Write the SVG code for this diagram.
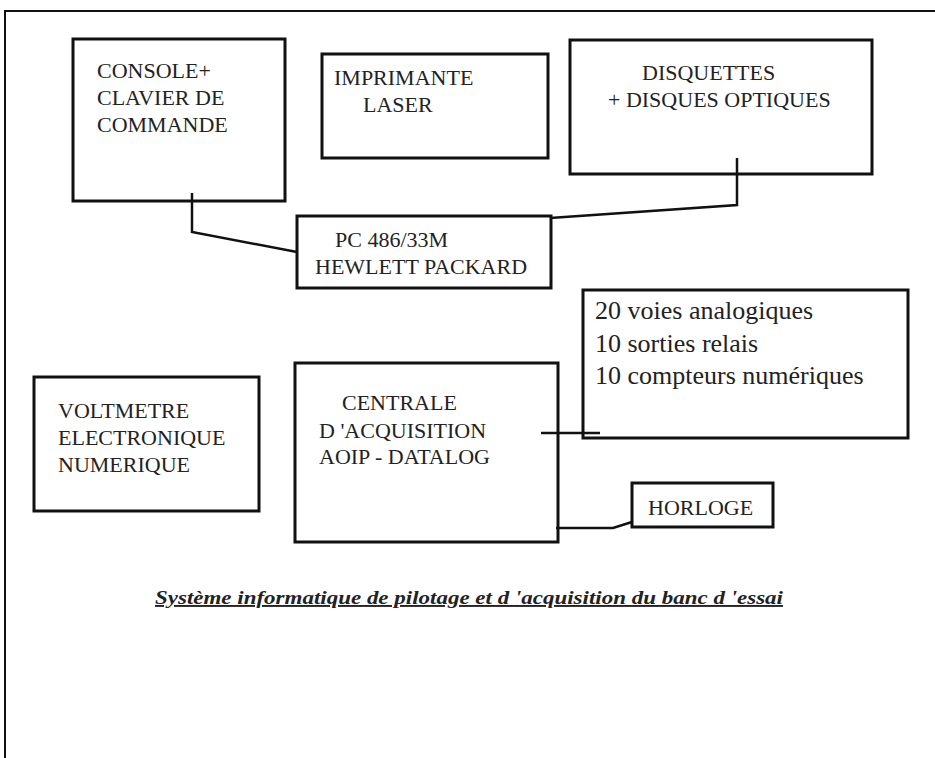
<svg xmlns="http://www.w3.org/2000/svg" width="935" height="758" viewBox="0 0 935 758">
<style>
.box{fill:#fff;stroke:#111;stroke-width:3}
.t{font-family:'Liberation Serif',Tinos,'Times New Roman','DejaVu Serif',serif;font-size:22px;fill:#222}
.t2{font-family:'Liberation Serif',Tinos,'Times New Roman','DejaVu Serif',serif;font-size:26px;fill:#222}
.c{fill:none;stroke:#111;stroke-width:2.5;stroke-linejoin:miter}
.cap{font-family:'Liberation Serif',Tinos,'Times New Roman','DejaVu Serif',serif;font-size:19px;font-weight:bold;font-style:italic;fill:#222;text-decoration:underline}
</style>
<rect width="935" height="758" fill="#fff"/>
<path d="M5,758 V11 H935" fill="none" stroke="#111" stroke-width="2"/>
<g id="console">
<rect class="box" x="73" y="39" width="212" height="162"/>
<text class="t" x="97" y="78">CONSOLE+</text>
<text class="t" x="97" y="105">CLAVIER DE</text>
<text class="t" x="97" y="132">COMMANDE</text>
</g>
<g id="imprimante">
<rect class="box" x="322" y="54" width="226" height="104"/>
<text class="t" x="334" y="85">IMPRIMANTE</text>
<text class="t" x="363" y="112">LASER</text>
</g>
<g id="disquettes">
<rect class="box" x="570" y="40" width="302" height="134"/>
<text class="t" x="642" y="80">DISQUETTES</text>
<text class="t" x="608" y="107">+ DISQUES OPTIQUES</text>
</g>
<g id="pc">
<rect class="box" x="297" y="216" width="254" height="72"/>
<text class="t" x="335" y="247">PC 486/33M</text>
<text class="t" x="315" y="274">HEWLETT PACKARD</text>
</g>
<g id="voies">
<rect class="box" x="583" y="290" width="325" height="148"/>
<text class="t2" x="595" y="319">20 voies analogiques</text>
<text class="t2" x="595" y="352">10 sorties relais</text>
<text class="t2" x="595" y="384">10 compteurs numériques</text>
</g>
<g id="voltmetre">
<rect class="box" x="34" y="377" width="225" height="134"/>
<text class="t" x="58" y="418">VOLTMETRE</text>
<text class="t" x="58" y="445">ELECTRONIQUE</text>
<text class="t" x="58" y="472">NUMERIQUE</text>
</g>
<g id="centrale">
<rect class="box" x="295" y="363" width="263" height="179"/>
<text class="t" x="342" y="410">CENTRALE</text>
<text class="t" x="319" y="438">D 'ACQUISITION</text>
<text class="t" x="319" y="464">AOIP - DATALOG</text>
</g>
<g id="horloge">
<rect class="box" x="632" y="483" width="141" height="44"/>
<text class="t" x="648" y="515">HORLOGE</text>
</g>
<g id="connectors">
<path class="c" d="M192,193 V232 L297,252"/>
<path class="c" d="M737,158 V205 L550,218"/>
<path class="c" d="M541,433 H600" stroke-width="3"/>
<path class="c" d="M556,528 H613 L632,522"/>
</g>
<text class="cap" x="155" y="604" textLength="628" lengthAdjust="spacingAndGlyphs">Système informatique de pilotage et d 'acquisition du banc d 'essai</text>
</svg>
